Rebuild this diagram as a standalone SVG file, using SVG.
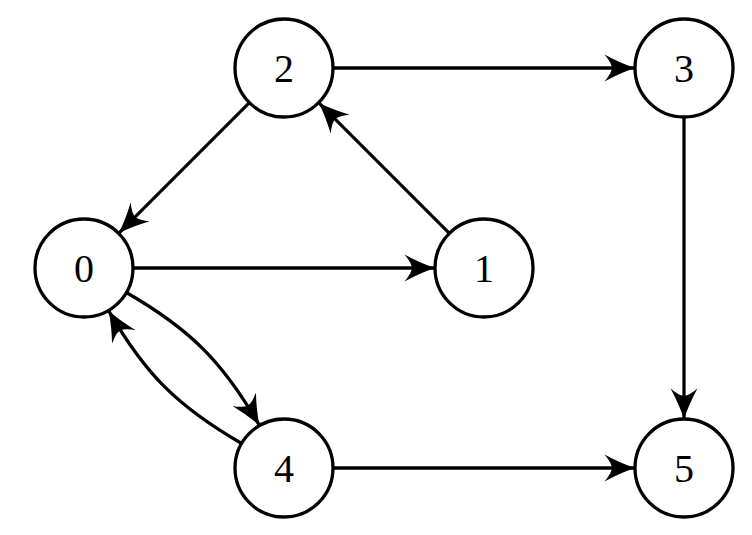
<svg xmlns="http://www.w3.org/2000/svg" width="752" height="535" viewBox="0 0 752 535">
<style>
.node circle{fill:#fff;stroke:#000;stroke-width:3.3}
.node text{font-family:"Liberation Serif","DejaVu Serif",serif;font-size:40px;text-anchor:middle;fill:#000}
.edge{fill:none;stroke:#000;stroke-width:3.3;marker-end:url(#ah)}
</style>
<defs>
<marker id="ah" viewBox="-32 -16 34 32" markerWidth="34" markerHeight="32" refX="0" refY="0" orient="auto" markerUnits="userSpaceOnUse">
<path d="M1,0 Q-14,-5 -29.5,-13.5 Q-23,-6 -22,0 Q-23,6 -29.5,13.5 Q-14,5 1,0 Z" fill="#000"/>
</marker>
</defs>
<rect width="752" height="535" fill="#fff"/>
<g id="connectors">
<path class="edge" d="M333.5,68 H634"/>
<path class="edge" d="M684,117.5 V418"/>
<path class="edge" d="M333.5,468 H634"/>
<path class="edge" d="M133.5,268 H434"/>
<path class="edge" d="M449.4,233.4 L319.4,103.4"/>
<path class="edge" d="M249.4,102.6 L119.4,232.6"/>
<path class="edge" d="M126.4,292.5 C190.4,329.5 222.5,361.6 259,424.7"/>
<path class="edge" d="M241.6,443.5 C177.6,406.5 145.5,374.4 109,311.3"/>
</g>
<g id="node0" class="node"><circle cx="84" cy="268" r="49"/><text x="84" y="282">0</text></g>
<g id="node1" class="node"><circle cx="484" cy="268" r="49"/><text x="484" y="282">1</text></g>
<g id="node2" class="node"><circle cx="284" cy="68" r="49"/><text x="284" y="82">2</text></g>
<g id="node3" class="node"><circle cx="684" cy="68" r="49"/><text x="684" y="82">3</text></g>
<g id="node4" class="node"><circle cx="284" cy="468" r="49"/><text x="284" y="482">4</text></g>
<g id="node5" class="node"><circle cx="684" cy="468" r="49"/><text x="684" y="482">5</text></g>
</svg>
